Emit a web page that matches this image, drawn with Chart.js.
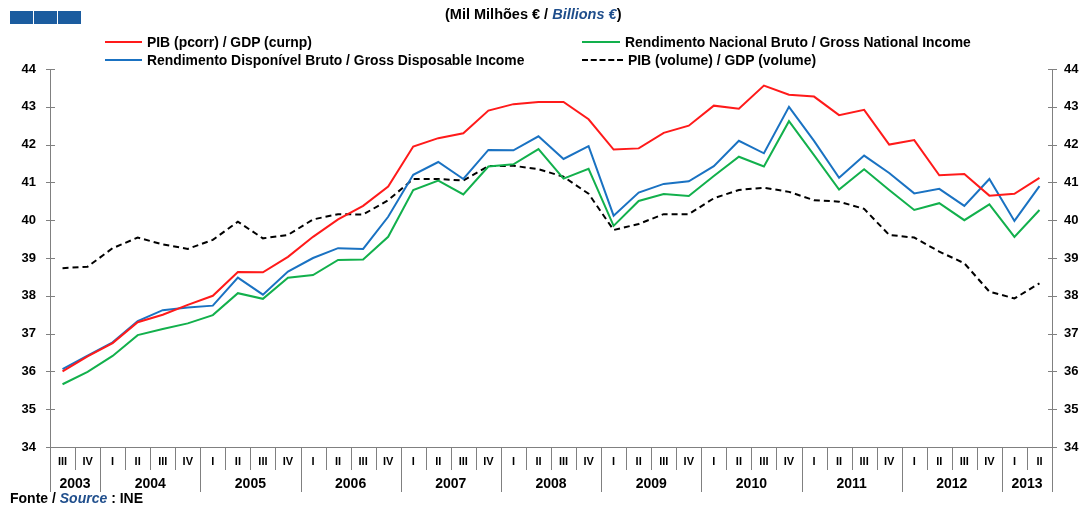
<head>
  <title>PIB / GDP</title>
  <script src="https://cdn.jsdelivr.net/npm/chart.js@4.4.0/dist/chart.umd.min.js"></script>
  <style>
    html, body {
      margin: 0;
      padding: 0;
      background: #fff;
      font-family: 'Liberation Sans', Arial, sans-serif;
    }

    #wrap {
      position: relative;
      width: 1083px;
      height: 506px;
      overflow: hidden;
    }

    canvas {
      position: absolute;
      left: 0;
      top: 0;
    }

    .logo span {
      position: absolute;
      top: 11px;
      width: 23px;
      height: 13px;
      background: #1b5c9f;
    }

    #title {
      position: absolute;
      left: 445px;
      top: 6px;
      font-size: 14.5px;
      font-weight: bold;
      white-space: nowrap;
    }

    .blue {
      color: #1f4e8c;
      font-style: italic;
    }

    .legend-item {
      position: absolute;
      height: 16px;
      font-size: 13.9px;
      line-height: 16px;
      font-weight: bold;
      white-space: nowrap;
    }

    .legend-item .swatch {
      position: absolute;
      left: 0;
      top: 7px;
      height: 0;
    }

    .legend-item .text {
      position: absolute;
      top: 0;
    }

    #source {
      position: absolute;
      left: 10px;
      top: 490px;
      font-size: 14px;
      font-weight: bold;
      white-space: nowrap;
    }
  </style>
</head>

<body>
<div id="wrap">
  <canvas id="chart" width="1083" height="506"></canvas>
  <div class="logo">
    <span style="left:10px"></span><span style="left:34px"></span><span style="left:58px"></span>
  </div>
  <div id="title">(Mil Milhões € / <span class="blue">Billions €</span>)</div>
  <div id="legend"></div>
  <div id="source">Fonte / <span class="blue">Source</span> : INE</div>
</div>

<script>
  // quarters 2003 III .. 2013 II
  const quarterLabels = [
    'III', 'IV',
    'I', 'II', 'III', 'IV',
    'I', 'II', 'III', 'IV',
    'I', 'II', 'III', 'IV',
    'I', 'II', 'III', 'IV',
    'I', 'II', 'III', 'IV',
    'I', 'II', 'III', 'IV',
    'I', 'II', 'III', 'IV',
    'I', 'II', 'III', 'IV',
    'I', 'II', 'III', 'IV',
    'I', 'II'
  ];
  const yearLabels = ['2003', '2004', '2005', '2006', '2007', '2008', '2009', '2010', '2011', '2012', '2013'];
  const quartersPerYear = [2, 4, 4, 4, 4, 4, 4, 4, 4, 4, 2];

  const pibCorr = [
    36.0, 36.4, 36.75, 37.3, 37.5, 37.76, 38.0, 38.63, 38.62, 39.03,
    39.56, 40.02, 40.38, 40.89, 41.95, 42.17, 42.3, 42.9, 43.07, 43.13,
    43.13, 42.67, 41.87, 41.9, 42.31, 42.5, 43.03, 42.95, 43.56, 43.32,
    43.27, 42.78, 42.92, 42.0, 42.12, 41.19, 41.22, 40.65, 40.7, 41.12
  ];
  const rnb = [
    35.66, 35.99, 36.41, 36.96, 37.12, 37.27, 37.49, 38.07, 37.92, 38.48,
    38.55, 38.95, 38.96, 39.56, 40.8, 41.05, 40.68, 41.42, 41.48, 41.88,
    41.1, 41.36, 39.85, 40.51, 40.69, 40.64, 41.17, 41.68, 41.42, 42.62,
    41.72, 40.81, 41.35, 40.8, 40.27, 40.45, 40.0, 40.42, 39.56, 40.27
  ];
  const rdb = [
    36.06, 36.42, 36.77, 37.33, 37.62, 37.69, 37.74, 38.48, 38.03, 38.64,
    39.0, 39.26, 39.24, 40.09, 41.2, 41.54, 41.09, 41.86, 41.85, 42.22,
    41.62, 41.96, 40.12, 40.73, 40.96, 41.03, 41.43, 42.1, 41.77, 43.0,
    42.1, 41.12, 41.71, 41.25, 40.71, 40.83, 40.38, 41.09, 39.98, 40.9
  ];
  const pibVol = [
    38.73, 38.77, 39.26, 39.54, 39.36, 39.24, 39.48, 39.96, 39.52, 39.61,
    40.02, 40.16, 40.15, 40.53, 41.09, 41.09, 41.05, 41.43, 41.44, 41.35,
    41.15, 40.7, 39.74, 39.9, 40.16, 40.16, 40.58, 40.8, 40.86, 40.75,
    40.53, 40.49, 40.3, 39.61, 39.54, 39.17, 38.86, 38.11, 37.93, 38.33
  ];

  const AXIS_COLOR = '#808080';
  const FONT = "'Liberation Sans', Arial, sans-serif";

  // axis lines, crossing tick marks, quarter / year separators and year labels
  const axisDecor = {
    id: 'axisDecor',
    afterDraw(chart) {
      const { ctx, chartArea: area } = chart;
      const x = chart.scales.x;
      const y = chart.scales.y;
      const bottomLine = area.bottom + 45;
      ctx.save();
      ctx.strokeStyle = AXIS_COLOR;
      ctx.lineWidth = 1;

      ctx.beginPath();
      ctx.moveTo(area.left + 0.5, area.top);
      ctx.lineTo(area.left + 0.5, bottomLine);
      ctx.moveTo(area.right + 0.5, area.top);
      ctx.lineTo(area.right + 0.5, bottomLine);
      ctx.moveTo(area.left, area.bottom + 0.5);
      ctx.lineTo(area.right, area.bottom + 0.5);

      for (let v = y.min; v <= y.max; v++) {
        const py = Math.round(y.getPixelForValue(v)) + 0.5;
        ctx.moveTo(area.left - 4, py);
        ctx.lineTo(area.left + 5, py);
        ctx.moveTo(area.right - 4, py);
        ctx.lineTo(area.right + 5, py);
      }

      const yearEnds = [];
      let n = 0;
      quartersPerYear.forEach(c => { n += c; yearEnds.push(n - 1); });

      for (let i = 0; i < quarterLabels.length - 1; i++) {
        const px = Math.round((x.getPixelForValue(i) + x.getPixelForValue(i + 1)) / 2) + 0.5;
        const len = yearEnds.includes(i) ? 45 : 23;
        ctx.moveTo(px, area.bottom);
        ctx.lineTo(px, area.bottom + len);
      }
      ctx.stroke();

      ctx.fillStyle = '#000';
      ctx.font = `bold 14px ${FONT}`;
      ctx.textAlign = 'center';
      ctx.textBaseline = 'middle';
      let start = 0;
      yearLabels.forEach((yr, k) => {
        const end = start + quartersPerYear[k] - 1;
        const cx = (x.getPixelForValue(start) + x.getPixelForValue(end)) / 2;
        ctx.fillText(yr, cx, area.bottom + 37);
        start = end + 1;
      });
      ctx.restore();
    }
  };

  const yTicks = {
    stepSize: 1,
    color: '#000',
    font: { family: FONT, size: 13, weight: 'bold' }
  };

  const chart = new Chart(document.getElementById('chart'), {
    type: 'line',
    data: {
      labels: quarterLabels,
      datasets: [
        { label: 'PIB (pcorr) / GDP (curnp)', data: pibCorr, borderColor: '#ff1a1a', borderWidth: 2 },
        { label: 'Rendimento Nacional Bruto / Gross National Income', data: rnb, borderColor: '#12b04c', borderWidth: 2 },
        { label: 'Rendimento Disponível Bruto / Gross Disposable Income', data: rdb, borderColor: '#1a72c2', borderWidth: 2 },
        { label: 'PIB (volume) / GDP (volume)', data: pibVol, borderColor: '#000000', borderWidth: 2, borderDash: [6, 4] }
      ].map(d => ({ ...d, pointRadius: 0, tension: 0, fill: false }))
    },
    options: {
      responsive: false,
      animation: false,
      layout: { padding: { top: 69, left: 0, right: 0, bottom: 0 } },
      plugins: {
        legend: { display: false },
        tooltip: { enabled: false }
      },
      scales: {
        x: {
          offset: true,
          grid: { display: false, drawTicks: false, offset: true },
          border: { display: false },
          ticks: {
            color: '#000',
            autoSkip: false,
            maxRotation: 0,
            padding: 8,
            font: { family: FONT, size: 11, weight: 'bold' }
          },
          afterFit(s) { s.height = 59; }
        },
        y: {
          position: 'left',
          min: 34,
          max: 44,
          grid: { display: false, drawTicks: false },
          border: { display: false },
          ticks: { ...yTicks, padding: 14 },
          afterFit(s) { s.width = 50; }
        },
        y2: {
          position: 'right',
          min: 34,
          max: 44,
          grid: { display: false, drawTicks: false },
          border: { display: false },
          ticks: { ...yTicks, padding: 12 },
          afterFit(s) { s.width = 31; }
        }
      }
    },
    plugins: [axisDecor]
  });

  // two-column legend built from the datasets
  const legendSlots = [
    { left: 105, top: 34, lineWidth: 37 },
    { left: 582, top: 34, lineWidth: 38 },
    { left: 105, top: 52, lineWidth: 37 },
    { left: 582, top: 52, lineWidth: 41 }
  ];
  const legendEl = document.getElementById('legend');
  chart.data.datasets.forEach((ds, i) => {
    const slot = legendSlots[i];
    const item = document.createElement('div');
    item.className = 'legend-item';
    item.style.left = slot.left + 'px';
    item.style.top = slot.top + 'px';
    const sw = document.createElement('div');
    sw.className = 'swatch';
    sw.style.width = slot.lineWidth + 'px';
    sw.style.borderTop = ds.borderDash ? '2px dashed #000' : `2px solid ${ds.borderColor}`;
    const tx = document.createElement('div');
    tx.className = 'text';
    tx.style.left = (slot.lineWidth + 5) + 'px';
    tx.textContent = ds.label;
    item.appendChild(sw);
    item.appendChild(tx);
    legendEl.appendChild(item);
  });
</script>
</body>
